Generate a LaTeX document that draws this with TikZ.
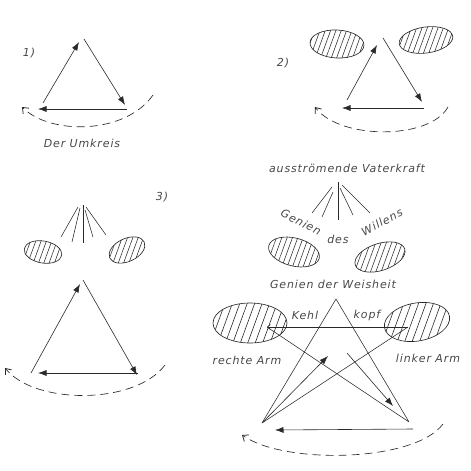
\documentclass[tikz,border=0pt]{standalone}
\usepackage{fontspec}
\usepackage{tikz}
\newfontfamily\handfont[LetterSpace=8]{DejaVu Sans}
\usetikzlibrary{arrows.meta,shapes.geometric,patterns.meta}
\usetikzlibrary{positioning}
\definecolor{ink}{rgb}{0.16,0.16,0.16}
\definecolor{pencil}{rgb}{0.28,0.28,0.28}
\tikzstyle{side}=[draw=ink,line width=0.6pt,-{Latex[length=8.5pt,width=6pt]}]
\tikzstyle{plain}=[draw=ink,line width=0.55pt]
\tikzstyle{umkreis}=[draw=ink,line width=0.65pt,dash pattern=on 8pt off 5pt,
                -{Straight Barb[length=5pt,width=8pt,line width=0.8pt]}]
\tikzstyle{genius}=[draw=ink,ellipse,inner sep=0,line width=0.65pt,
                pattern={Lines[angle=70,distance=5pt,line width=0.55pt]},pattern color=ink]
\tikzstyle{big genius}=[genius,pattern={Lines[angle=70,distance=7pt,line width=0.6pt]}]
\tikzstyle{ray}=[draw=ink,line width=0.55pt]
\tikzstyle{hand}=[font={\handfont\itshape\fontsize{11}{12}\selectfont},text=pencil,inner sep=1pt]

\begin{document}
\begin{tikzpicture}[x=1pt,y=-1pt]
\path[use as bounding box] (0,0) rectangle (471,471);

% 1) der Umkreis
\node[hand] (num1) at (29,53) {1)};
\coordinate (t1top) at (79,42); \coordinate (t1topb) at (84,39);
\coordinate (t1r) at (125,105); \coordinate (t1rb) at (127,109);
\coordinate (t1l) at (38,109); \coordinate (t1lb) at (43,103);
\draw[side] (t1lb) -- (t1top);
\draw[side] (t1topb) -- (t1r);
\draw[side] (t1rb) -- (t1l);
\coordinate (u1r) at (153,95); \coordinate (u1l) at (22,107);
\draw[umkreis] (u1r) .. controls (125,135) and (50,135) .. (u1l);
\node[hand] (umkreis) at (82,143) {Der Umkreis};

% 2)
\node[hand] (num2) at (283,63) {2)};
\node[genius,minimum width=54pt,minimum height=28pt,rotate=-3] (g2l) at (337,44) {};
\node[genius,minimum width=54pt,minimum height=26pt,rotate=8] (g2r) at (426,40) {};
\coordinate (t2top) at (377,45); \coordinate (t2topb) at (383,38);
\coordinate (t2r) at (422,102); \coordinate (t2rb) at (424,108);
\coordinate (t2l) at (342,108); \coordinate (t2lb) at (347,100);
\draw[side] (t2lb) -- (t2top);
\draw[side] (t2topb) -- (t2r);
\draw[side] (t2rb) -- (t2l);
\coordinate (u2r) at (448,107); \coordinate (u2l) at (315,107);
\draw[umkreis] (u2r) .. controls (430,140) and (340,140) .. (u2l);

% 3)
\node[hand] (num3) at (162,197) {3)};
\foreach \a/\b in {{(78,207)}/{(61,237)},{(80,208)}/{(72,242)},{(83,205)}/{(83,243)},
                   {(85,210)}/{(93,237)},{(86,207)}/{(106,235)}}
  \draw[ray] \a -- \b;
\node[genius,minimum width=38pt,minimum height=22pt,rotate=-10] (g3l) at (43,252) {};
\node[genius,minimum width=38pt,minimum height=23pt,rotate=25] (g3r) at (127,250) {};
\coordinate (t3top) at (80,284); \coordinate (t3topb) at (83,280);
\coordinate (t3r) at (137,375); \coordinate (t3rb) at (138,373);
\coordinate (t3l) at (38,373); \coordinate (t3lb) at (31,373);
\draw[side] (t3lb) -- (t3top);
\draw[side] (t3topb) -- (t3r);
\draw[side] (t3rb) -- (t3l);
\coordinate (u3r) at (165,365); \coordinate (u3l) at (5,368);
\draw[umkreis] (u3r) .. controls (135,405) and (35,405) .. (u3l);

% 4) Vaterkraft, Genien, Arme
\node[hand] (vater) at (347,168) {ausströmende Vaterkraft};
\foreach \a/\b in {{(332,187)}/{(312,213)},{(333,192)}/{(322,217)},{(338,182)}/{(338,220)},
                   {(340,188)}/{(353,215)},{(342,185)}/{(370,213)}}
  \draw[ray] \a -- \b;
\node[hand,rotate=-27] (genien) at (301,222) {Genien};
\node[hand] (des) at (338,239) {des};
\node[hand,rotate=28] (willens) at (382,222) {Willens};
\node[genius,minimum width=52pt,minimum height=28pt,rotate=-14] (weisL) at (294,252) {};
\node[genius,minimum width=52pt,minimum height=27pt,rotate=18] (weisR) at (380,257) {};
\node[hand] (weisheit) at (333,284) {Genien der Weisheit};

\node[big genius,minimum width=74pt,minimum height=40pt] (armR) at (250,323) {};
\node[big genius,minimum width=66pt,minimum height=38pt,rotate=10] (armL) at (417,322) {};
\node[hand] (kehl) at (305,315) {Kehl};
\node[hand] (kopf) at (367,315) {kopf};
\node[hand] (rechte) at (247,360) {rechte Arm};
\node[hand] (linker) at (428,358) {linker Arm};

\coordinate (head) at (336,299);
\coordinate (le) at (267,327); \coordinate (re) at (408,327);
\coordinate (bl) at (262,423); \coordinate (br) at (409,422);
\coordinate (blt) at (328,356); \coordinate (brs) at (347,353); \coordinate (brt) at (393,406);
\draw[plain] (head) -- (bl) (head) -- (br) (le) -- (br) (re) -- (bl);
\draw[plain,-{Straight Barb[length=3pt,width=5pt]}] (re) -- (le);
\draw[side] (bl) -- (blt);
\draw[side] (brs) -- (brt);
\coordinate (fr) at (413,429); \coordinate (fl) at (275,430);
\draw[side] (fr) -- (fl);
\coordinate (u4r) at (443,424); \coordinate (u4l) at (242,435);
\draw[umkreis] (u4r) .. controls (415,462) and (285,465) .. (u4l);
\end{tikzpicture}
\end{document}
